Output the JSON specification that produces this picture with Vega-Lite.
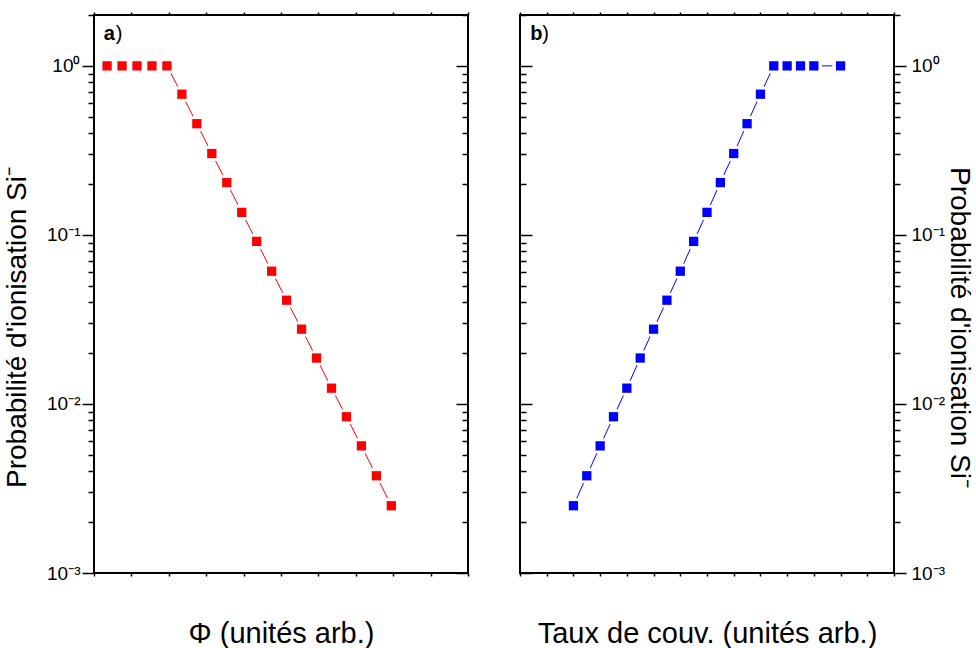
{
  "$schema": "https://vega.github.io/schema/vega-lite/v6.json",
  "padding": {"left": 2, "top": 5, "right": 0, "bottom": 0},
  "config": {
    "view": {"stroke": "black", "strokeWidth": 2},
    "font": "Liberation Sans",
    "concat": {"spacing": 48},
    "axis": {
      "domain": false,
      "grid": false,
      "tickColor": "black",
      "tickWidth": 1.5,
      "labelColor": "black",
      "titleColor": "black",
      "labelFont": "Liberation Sans",
      "titleFont": "Liberation Sans",
      "titleFontWeight": "normal",
      "labelFontSize": 19,
      "titleFontSize": 29,
      "labelOverlap": false
    }
  },
  "datasets": {
    "a": [
      {"x": 0.35, "p": 1.0}, {"x": 0.75, "p": 1.0}, {"x": 1.15, "p": 1.0}, {"x": 1.55, "p": 1.0}, {"x": 1.95, "p": 1.0},
      {"x": 2.35, "p": 0.68}, {"x": 2.75, "p": 0.455}, {"x": 3.15, "p": 0.303}, {"x": 3.55, "p": 0.204}, {"x": 3.95, "p": 0.136},
      {"x": 4.35, "p": 0.0916}, {"x": 4.75, "p": 0.061}, {"x": 5.15, "p": 0.0411}, {"x": 5.55, "p": 0.0277}, {"x": 5.95, "p": 0.0187},
      {"x": 6.35, "p": 0.0124}, {"x": 6.75, "p": 0.0084}, {"x": 7.15, "p": 0.00565}, {"x": 7.55, "p": 0.00376}, {"x": 7.95, "p": 0.0025}
    ],
    "b": [
      {"x": 2.0, "p": 0.0025}, {"x": 2.5, "p": 0.00376}, {"x": 3.0, "p": 0.00565}, {"x": 3.5, "p": 0.0084}, {"x": 4.0, "p": 0.0124},
      {"x": 4.5, "p": 0.0187}, {"x": 5.0, "p": 0.0277}, {"x": 5.5, "p": 0.0411}, {"x": 6.0, "p": 0.061}, {"x": 6.5, "p": 0.0916},
      {"x": 7.0, "p": 0.136}, {"x": 7.5, "p": 0.204}, {"x": 8.0, "p": 0.303}, {"x": 8.5, "p": 0.455}, {"x": 9.0, "p": 0.68},
      {"x": 9.5, "p": 1.0}, {"x": 10.0, "p": 1.0}, {"x": 10.5, "p": 1.0}, {"x": 11.0, "p": 1.0}, {"x": 12.0, "p": 1.0}
    ],
    "la": [{"x": 0.26, "p": 1.42, "t": "a", "u": ")"}],
    "lb": [{"x": 0.38, "p": 1.42, "t": "b", "u": ")"}]
  },
  "hconcat": [
    {
      "width": 374,
      "height": 558,
      "resolve": {"axis": {"x": "independent", "y": "independent"}},
      "layer": [
        {
          "data": {"name": "a"},
          "mark": {"type": "line", "color": "#ff0000", "strokeWidth": 1},
          "encoding": {
            "x": {"field": "x", "type": "quantitative",
                  "scale": {"domain": [0, 10], "nice": false, "zero": false},
                  "axis": {"orient": "bottom", "values": [0,1,2,3,4,5,6,7,8,9,10], "labels": false, "tickSize": 3,
                           "title": "Φ (unités arb.)", "titlePadding": 43, "titleFontSize": 29}},
            "y": {"field": "p", "type": "quantitative",
                  "scale": {"type": "log", "domain": [0.001, 2], "nice": false},
                  "axis": {"orient": "left",
                           "values": [0.001,0.002,0.003,0.004,0.005,0.006,0.007,0.008,0.009,0.01,0.02,0.03,0.04,0.05,0.06,0.07,0.08,0.09,0.1,0.2,0.3,0.4,0.5,0.6,0.7,0.8,0.9,1,2],
                           "labelExpr": "abs(datum.value-1)<1e-9 ? '10⁰' : abs(datum.value-0.1)<1e-9 ? '10⁻¹' : abs(datum.value-0.01)<1e-9 ? '10⁻²' : abs(datum.value-0.001)<1e-9 ? '10⁻³' : ''",
                           "labelFontSize": 19,
                           "tickSize": {"condition": {"test": "abs(log(datum.value)/LN10 - round(log(datum.value)/LN10)) < 0.01", "value": 12}, "value": 6},
                           "labelPadding": 2,
                           "title": "Probabilité d'ionisation Si⁻", "titleFontSize": 28, "titlePadding": 15, "titleY": 312}}
          }
        },
        {
          "data": {"name": "a"},
          "mark": {"type": "point", "shape": "circle", "filled": true, "color": "white", "opacity": 1, "size": 290},
          "encoding": {
            "x": {"field": "x", "type": "quantitative",
                  "axis": {"orient": "top", "values": [0,1,2,3,4,5,6,7,8,9,10], "labels": false, "tickSize": 3, "title": null}},
            "y": {"field": "p", "type": "quantitative",
                  "axis": {"orient": "right",
                           "values": [0.001,0.002,0.003,0.004,0.005,0.006,0.007,0.008,0.009,0.01,0.02,0.03,0.04,0.05,0.06,0.07,0.08,0.09,0.1,0.2,0.3,0.4,0.5,0.6,0.7,0.8,0.9,1,2],
                           "labels": false,
                           "tickSize": {"condition": {"test": "abs(log(datum.value)/LN10 - round(log(datum.value)/LN10)) < 0.01", "value": -12}, "value": -6},
                           "title": null}}
          }
        },
        {
          "data": {"name": "a"},
          "mark": {"type": "point", "shape": "square", "filled": true, "color": "#ff0000", "opacity": 1, "size": 86},
          "encoding": {
            "x": {"field": "x", "type": "quantitative", "axis": null},
            "y": {"field": "p", "type": "quantitative", "axis": null}
          }
        },
        {
          "data": {"name": "la"},
          "mark": {"type": "text", "align": "left", "baseline": "alphabetic", "fontSize": 20, "fontWeight": "bold", "color": "black"},
          "encoding": {
            "x": {"field": "x", "type": "quantitative", "axis": null},
            "y": {"field": "p", "type": "quantitative", "axis": null},
            "text": {"field": "t"}
          }
        },
        {
          "data": {"name": "la"},
          "mark": {"type": "text", "align": "left", "baseline": "alphabetic", "fontSize": 20, "dx": 12, "color": "black"},
          "encoding": {
            "x": {"field": "x", "type": "quantitative", "axis": null},
            "y": {"field": "p", "type": "quantitative", "axis": null},
            "text": {"field": "u"}
          }
        }
      ]
    },
    {
      "width": 374,
      "height": 558,
      "resolve": {"axis": {"x": "independent", "y": "independent"}},
      "layer": [
        {
          "data": {"name": "b"},
          "mark": {"type": "line", "color": "#0000ff", "strokeWidth": 1},
          "encoding": {
            "x": {"field": "x", "type": "quantitative",
                  "scale": {"domain": [0, 14], "nice": false, "zero": false},
                  "axis": {"orient": "bottom", "values": [0,1,2,3,4,5,6,7,8,9,10,11,12,13,14], "labels": false, "tickSize": 3,
                           "title": "Taux de couv. (unités arb.)", "titlePadding": 43, "titleFontSize": 29}},
            "y": {"field": "p", "type": "quantitative",
                  "scale": {"type": "log", "domain": [0.001, 2], "nice": false},
                  "axis": {"orient": "right",
                           "values": [0.001,0.002,0.003,0.004,0.005,0.006,0.007,0.008,0.009,0.01,0.02,0.03,0.04,0.05,0.06,0.07,0.08,0.09,0.1,0.2,0.3,0.4,0.5,0.6,0.7,0.8,0.9,1,2],
                           "labelExpr": "abs(datum.value-1)<1e-9 ? '10⁰' : abs(datum.value-0.1)<1e-9 ? '10⁻¹' : abs(datum.value-0.01)<1e-9 ? '10⁻²' : abs(datum.value-0.001)<1e-9 ? '10⁻³' : ''",
                           "labelFontSize": 19,
                           "tickSize": {"condition": {"test": "abs(log(datum.value)/LN10 - round(log(datum.value)/LN10)) < 0.01", "value": 12}, "value": 6},
                           "labelPadding": 5,
                           "title": "Probabilité d'ionisation Si⁻", "titleFontSize": 28, "titlePadding": 0, "titleY": 312}}
          }
        },
        {
          "data": {"name": "b"},
          "mark": {"type": "point", "shape": "circle", "filled": true, "color": "white", "opacity": 1, "size": 270},
          "encoding": {
            "x": {"field": "x", "type": "quantitative",
                  "axis": {"orient": "top", "values": [0,1,2,3,4,5,6,7,8,9,10,11,12,13,14], "labels": false, "tickSize": 3, "title": null}},
            "y": {"field": "p", "type": "quantitative",
                  "axis": {"orient": "left",
                           "values": [0.001,0.002,0.003,0.004,0.005,0.006,0.007,0.008,0.009,0.01,0.02,0.03,0.04,0.05,0.06,0.07,0.08,0.09,0.1,0.2,0.3,0.4,0.5,0.6,0.7,0.8,0.9,1,2],
                           "labels": false,
                           "tickSize": {"condition": {"test": "abs(log(datum.value)/LN10 - round(log(datum.value)/LN10)) < 0.01", "value": -12}, "value": -6},
                           "title": null}}
          }
        },
        {
          "data": {"name": "b"},
          "mark": {"type": "point", "shape": "square", "filled": true, "color": "#0000ff", "opacity": 1, "size": 86},
          "encoding": {
            "x": {"field": "x", "type": "quantitative", "axis": null},
            "y": {"field": "p", "type": "quantitative", "axis": null}
          }
        },
        {
          "data": {"name": "lb"},
          "mark": {"type": "text", "align": "left", "baseline": "alphabetic", "fontSize": 20, "fontWeight": "bold", "color": "black"},
          "encoding": {
            "x": {"field": "x", "type": "quantitative", "axis": null},
            "y": {"field": "p", "type": "quantitative", "axis": null},
            "text": {"field": "t"}
          }
        },
        {
          "data": {"name": "lb"},
          "mark": {"type": "text", "align": "left", "baseline": "alphabetic", "fontSize": 20, "dx": 12, "color": "black"},
          "encoding": {
            "x": {"field": "x", "type": "quantitative", "axis": null},
            "y": {"field": "p", "type": "quantitative", "axis": null},
            "text": {"field": "u"}
          }
        }
      ]
    }
  ]
}
